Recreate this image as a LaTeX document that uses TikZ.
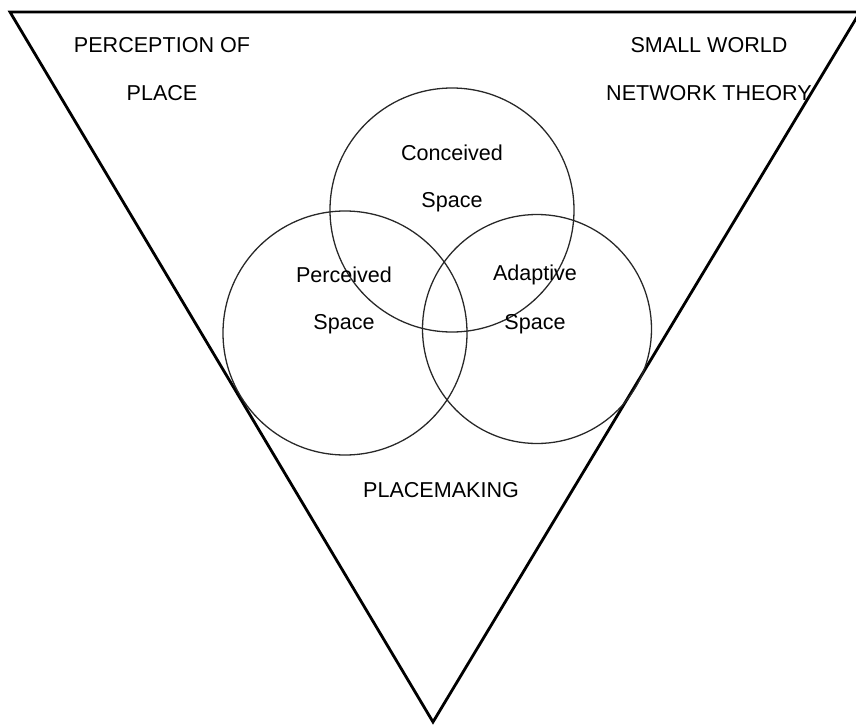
\documentclass[tikz,border=0pt]{standalone}
\usepackage{fontspec}
\setmainfont{Liberation Sans}
\usepackage{xcolor}
\usepackage{tikz}
\definecolor{ring}{RGB}{40,40,40}

\begin{document}
\begin{tikzpicture}[x=0.03cm,y=-0.03cm,
    label/.style={font=\fontsize{18.4}{20}\selectfont,inner sep=0pt,anchor=center}]
        \useasboundingbox (0,0) rectangle (856,726);
        % triangle
        \coordinate (tl) at (10,12);
        \coordinate (tr) at (860,12);
        \coordinate (apex) at (433,722);
        \draw[black,line width=2.4pt,line join=miter] (tl) -- (tr) -- (apex) -- cycle;
        % the three spaces
        \draw[ring,line width=1.1pt] (452,210) circle (122);
        \draw[ring,line width=1.1pt] (345,333) circle (122);
        \draw[ring,line width=1.1pt] (537,329) circle (114.5);
        \node[label] (conc1) at (452,153) {Conceived};
        \node[label] (conc2) at (452,202) {Space};
        \node[label] (perc1) at (344,275) {Perceived};
        \node[label] (perc2) at (344,324) {Space};
        \node[label] (adap1) at (535,275) {Adaptive};
        \node[label] (adap2) at (535,324) {Space};
        % corner labels
        \node[label] (pop1) at (162,45) {PERCEPTION OF};
        \node[label] (pop2) at (162,93) {PLACE};
        \node[label] (swn1) at (709,45) {SMALL WORLD};
        \node[label] (swn2) at (709,93) {NETWORK THEORY};
        \node[label] (pm) at (441,490) {PLACEMAKING};
      \end{tikzpicture}
\end{document}
